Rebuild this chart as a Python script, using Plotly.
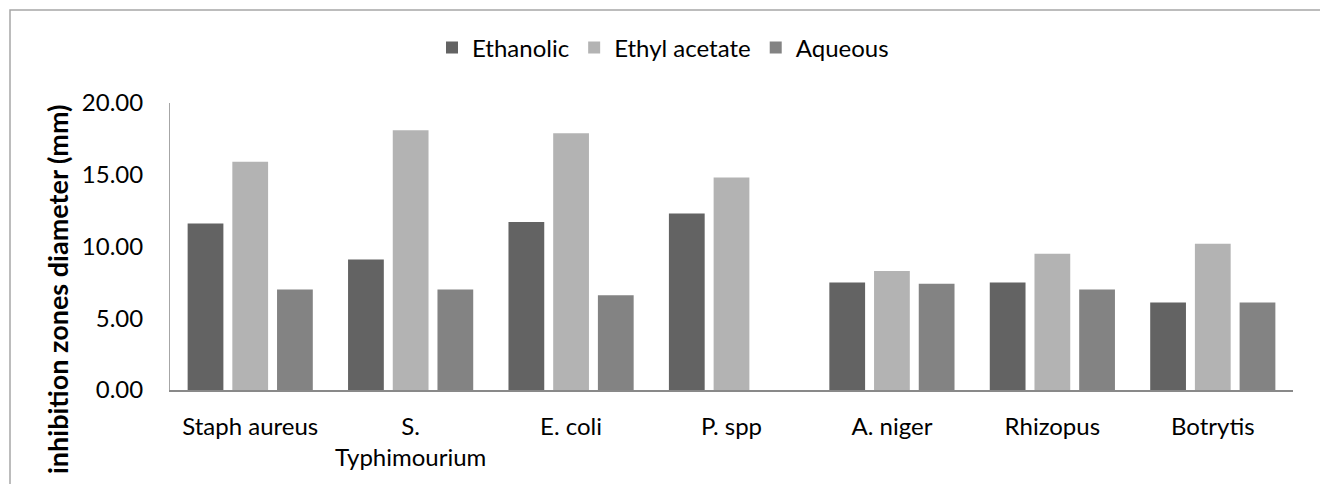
import plotly.graph_objects as go

categories = ["Staph aureus", "S.<br>Typhimourium", "E. coli", "P. spp", "A. niger", "Rhizopus", "Botrytis"]
ethanolic = [11.6, 9.1, 11.7, 12.3, 7.5, 7.5, 6.1]
ethyl_acetate = [15.9, 18.1, 17.9, 14.8, 8.3, 9.5, 10.2]
aqueous = [7.0, 7.0, 6.6, 0.0, 7.4, 7.0, 6.1]

series_names = ["Ethanolic", "Ethyl acetate", "Aqueous"]
series_colors = ["#636363", "#b3b3b3", "#838383"]

FONT = "Lato"

fig = go.Figure()
for name, vals, col in zip(series_names, [ethanolic, ethyl_acetate, aqueous], series_colors):
    fig.add_trace(go.Bar(
        x=categories, y=vals, name=name,
        marker=dict(color=col, line=dict(width=0)),
    ))

# figure is offset by the 8px page margin
W, H = 1320, 476
L, T = 162, 95
R = W - 1285
B = H - 382
pw = W - L - R
ph = H - T - B

fig.update_layout(
    width=W, height=H,
    margin=dict(l=L, r=R, t=T, b=B),
    paper_bgcolor="white", plot_bgcolor="white",
    barmode="group", bargap=0.164, bargroupgap=0.2,
    font=dict(family=FONT, size=24, color="#000000"),
    showlegend=True,
    legend=dict(
        orientation="h", x=(655 - L) / pw, xanchor="center",
        y=1 + (T - 40) / ph, yanchor="middle",
        font=dict(family=FONT, size=24, color="#000000"),
        itemwidth=30, traceorder="normal",
        bgcolor="rgba(0,0,0,0)",
    ),
    xaxis=dict(
        showline=True, linecolor="#898989", linewidth=1.5,
        ticks="", showgrid=False, zeroline=False,
        tickfont=dict(family=FONT, size=24, color="#000000"),
        ticklabelstandoff=14,
    ),
    yaxis=dict(
        range=[0, 20], dtick=5, tickformat=".2f",
        showline=True, linecolor="#a6a6a6", linewidth=1,
        ticks="", showgrid=False, zeroline=False,
        tickfont=dict(family=FONT, size=24, color="#000000"),
        ticklabelstandoff=21,
    ),
    annotations=[dict(
        text="<b>inhibition zones diameter (mm)</b>",
        xref="paper", yref="paper",
        x=(49 - L) / pw, y=1 - (282 - T) / ph,
        xanchor="center", yanchor="middle", textangle=-90, showarrow=False,
        font=dict(family=FONT, size=27, color="#000000"),
    )],
    shapes=[dict(
        type="rect", xref="paper", yref="paper",
        x0=(2 - L) / pw, x1=(1315 - L) / pw,
        y0=1 - (H + 20 - T) / ph, y1=1 + (T - 2) / ph,
        line=dict(color="#a6a6a6", width=1.5), fillcolor="rgba(0,0,0,0)",
        layer="below",
    )],
)

fig.write_html("out.html")
